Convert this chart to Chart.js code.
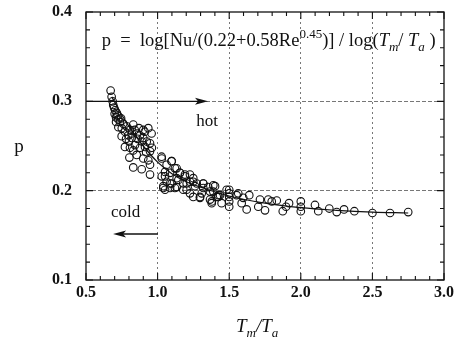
<!DOCTYPE html>
<html><head><meta charset="utf-8">
<script src="https://cdn.jsdelivr.net/npm/chart.js@4/dist/chart.umd.min.js"></script>
<style>html,body{margin:0;padding:0;background:#fff}</style>
</head><body>
<canvas id="c" width="457" height="346"></canvas>
<script>
// Measured points: T_m/T_a and p
const ratioValues = [
0.672,0.679,0.686,0.690,0.696,0.703,0.700,0.714,0.710,0.720,0.726,0.710,0.737,0.745,0.760,0.726,0.750,0.784,0.807,0.830,0.820,0.935,0.958,0.749,0.772,0.795,0.819,0.854,0.877,0.900,0.924,0.947,0.772,0.807,0.842,0.877,0.912,0.947,0.803,0.854,0.900,0.935,0.830,0.889,0.947,0.947,0.860,0.890,0.840,0.870,0.910,0.800,0.830,0.780,0.920,0.960,0.900,
1.029,1.063,1.098,1.121,1.029,1.052,1.087,1.063,1.098,1.133,1.156,1.191,1.040,1.087,1.133,1.179,1.226,1.249,1.273,1.203,1.249,1.296,1.319,1.354,1.389,1.401,1.413,1.378,1.436,1.319,1.366,1.308,1.378,1.424,1.500,1.500,1.500,1.500,1.500,
1.028,1.098,1.133,1.190,1.249,1.319,1.389,1.052,1.040,1.052,1.121,1.179,1.226,1.296,1.366,1.424,1.447,1.482,1.087,1.145,1.203,1.261,1.156,1.226,
1.552,1.563,1.598,1.640,1.587,1.622,1.703,1.715,1.750,1.773,1.797,1.832,1.874,1.897,1.918,2.000,2.000,2.000,2.099,2.122,2.199,2.251,2.302,2.374,2.500,2.623,2.750
];
const pValues = [
0.312,0.305,0.300,0.296,0.293,0.290,0.286,0.287,0.282,0.284,0.280,0.277,0.277,0.281,0.275,0.271,0.270,0.272,0.268,0.274,0.264,0.270,0.264,0.261,0.266,0.262,0.259,0.264,0.262,0.259,0.255,0.253,0.249,0.248,0.251,0.248,0.249,0.244,0.237,0.240,0.236,0.234,0.226,0.224,0.229,0.218,0.258,0.255,0.268,0.270,0.266,0.255,0.245,0.258,0.243,0.248,0.268,
0.236,0.229,0.233,0.225,0.216,0.221,0.220,0.210,0.208,0.214,0.220,0.218,0.203,0.203,0.204,0.208,0.210,0.214,0.208,0.201,0.193,0.192,0.203,0.204,0.199,0.205,0.193,0.188,0.195,0.208,0.199,0.197,0.186,0.193,0.201,0.197,0.193,0.188,0.182,
0.238,0.233,0.225,0.216,0.210,0.208,0.206,0.216,0.205,0.201,0.203,0.201,0.197,0.193,0.190,0.195,0.186,0.201,0.208,0.212,0.208,0.205,0.220,0.218,
0.195,0.197,0.192,0.195,0.186,0.179,0.182,0.190,0.178,0.190,0.188,0.189,0.177,0.182,0.186,0.188,0.182,0.177,0.184,0.177,0.180,0.176,0.179,0.177,0.175,0.175,0.176
];
// Fitted curve
const fitRatio = [0.68,0.75,0.80,0.90,1.00,1.10,1.20,1.30,1.50,1.75,2.00,2.25,2.50,2.75];
const fitP     = [0.305,0.285,0.272,0.250,0.232,0.219,0.210,0.204,0.194,0.186,0.181,0.178,0.176,0.175];
const xTickLabels = ['0.5','1.0','1.5','2.0','2.5','3.0'];
const yTickLabels = ['0.1','0.2','0.3','0.4'];

const SERIF = '"Liberation Serif", "Times New Roman", serif';

function drawRich(ctx, x, y, pieces, base) {
  let cx = x;
  for (const p of pieces) {
    const size = p.size || base;
    ctx.font = (p.italic ? 'italic ' : '') + size + 'px ' + SERIF;
    ctx.fillText(p.t, cx, y + (p.dy || 0));
    cx += ctx.measureText(p.t).width + (p.gap || 0);
  }
}

const decor = {
  id: 'decor',
  afterDatasetsDraw(chart) {
    const ctx = chart.ctx, xs = chart.scales.x, ys = chart.scales.y;
    const a = chart.chartArea;
    ctx.save();
    ctx.strokeStyle = '#111'; ctx.fillStyle = '#111';
    ctx.lineWidth = 1.3;
    ctx.strokeRect(a.left, a.top, a.right - a.left, a.bottom - a.top);
    ctx.lineWidth = 1.1;
    ctx.beginPath();
    for (let i = 0; i <= 25; i++) {
      const v = 0.5 + i * 0.1, px = xs.getPixelForValue(v);
      const L = (i % 5 === 0) ? 7 : 4;
      ctx.moveTo(px, a.bottom); ctx.lineTo(px, a.bottom - L);
      ctx.moveTo(px, a.top); ctx.lineTo(px, a.top + L);
    }
    for (let i = 0; i <= 15; i++) {
      const v = 0.1 + i * 0.02, py = ys.getPixelForValue(v);
      const L = (i % 5 === 0) ? 7 : 4;
      ctx.moveTo(a.left, py); ctx.lineTo(a.left + L, py);
      ctx.moveTo(a.right, py); ctx.lineTo(a.right - L, py);
    }
    ctx.stroke();

    // arrows
    function arrow(x1, x2, yv) {
      const p1 = xs.getPixelForValue(x1), p2 = xs.getPixelForValue(x2), py = ys.getPixelForValue(yv);
      const dir = Math.sign(p2 - p1);
      ctx.lineWidth = 1.3;
      ctx.beginPath(); ctx.moveTo(p1, py); ctx.lineTo(p2 - dir * 8, py); ctx.stroke();
      ctx.beginPath();
      ctx.moveTo(p2, py); ctx.lineTo(p2 - dir * 13, py - 3.5); ctx.lineTo(p2 - dir * 10, py); ctx.lineTo(p2 - dir * 13, py + 3.5);
      ctx.closePath(); ctx.fill();
    }
    arrow(0.5, 1.352, 0.3);
    arrow(1.003, 0.689, 0.1515);

    ctx.textBaseline = 'alphabetic';
    ctx.textAlign = 'left';
    // formula
    drawRich(ctx, xs.getPixelForValue(0.61), ys.getPixelForValue(0.3625), [
      {t: 'p  =  log[Nu/(0.22+0.58Re'},
      {t: '0.45', size: 13, dy: -8},
      {t: ')] / log('},
      {t: 'T', italic: true},
      {t: 'm', italic: true, size: 13, dy: 5},
      {t: '/ '},
      {t: 'T', italic: true},
      {t: 'a', italic: true, size: 13, dy: 5},
      {t: ' )'}
    ], 18.5);
    ctx.textAlign = 'center'; ctx.textBaseline = 'middle';
    ctx.font = '17px ' + SERIF;
    ctx.fillText('hot', xs.getPixelForValue(1.345), ys.getPixelForValue(0.277));
    ctx.fillText('cold', xs.getPixelForValue(0.776), ys.getPixelForValue(0.175));
    // y title
    ctx.font = '19px ' + SERIF;
    ctx.fillText('p', 19, 147);
    // x title
    ctx.textAlign = 'left'; ctx.textBaseline = 'alphabetic';
    drawRich(ctx, 236, 332, [
      {t: 'T', italic: true},
      {t: 'm', italic: true, size: 13, dy: 5},
      {t: '/', italic: true},
      {t: 'T', italic: true},
      {t: 'a', italic: true, size: 13, dy: 5}
    ], 19);
    ctx.restore();
  }
};

new Chart(document.getElementById('c'), {
  type: 'scatter',
  data: {
    datasets: [
      {
        data: ratioValues.map((x, i) => ({x, y: pValues[i]})),
        pointRadius: 3.8, pointBorderWidth: 1.1,
        borderColor: '#111', backgroundColor: 'rgba(255,255,255,0)',
        pointStyle: 'circle'
      },
      {
        type: 'line',
        data: fitRatio.map((x, i) => ({x, y: fitP[i]})),
        showLine: true, pointRadius: 0, borderWidth: 1.2, borderColor: '#111',
        tension: 0.4, fill: false
      }
    ]
  },
  options: {
    responsive: false, animation: false,
    layout: {padding: {top: 12, right: 13, left: 0, bottom: 0}},
    plugins: {legend: {display: false}, tooltip: {enabled: false}},
    scales: {
      x: {
        type: 'linear', min: 0.5, max: 3.0,
        afterFit: s => { s.height = 66; s.paddingLeft = 0; s.paddingRight = 0; },
        afterBuildTicks: s => { s.ticks = xTickLabels.map(t => ({value: parseFloat(t)})); },
        ticks: {
          callback: (v, i) => xTickLabels[i],
          color: '#111', padding: 3, maxRotation: 0,
          font: {family: SERIF, size: 16, weight: 'bold'}
        },
        grid: {
          drawTicks: false, lineWidth: 1,
          color: c => (c.tick && c.tick.value > 0.6 && c.tick.value < 2.9) ? '#777' : 'rgba(0,0,0,0)'
        },
        border: {display: false, dash: [2, 3]}
      },
      y: {
        type: 'linear', min: 0.1, max: 0.4,
        afterFit: s => { s.width = 86; s.paddingTop = 0; s.paddingBottom = 0; },
        afterBuildTicks: s => { s.ticks = yTickLabels.map(t => ({value: parseFloat(t)})); },
        ticks: {
          callback: (v, i) => yTickLabels[i],
          color: '#111', padding: 14,
          font: {family: SERIF, size: 16, weight: 'bold'}
        },
        grid: {
          drawTicks: false, lineWidth: 1,
          color: c => (c.tick && c.tick.value > 0.15 && c.tick.value < 0.35) ? '#777' : 'rgba(0,0,0,0)'
        },
        border: {display: false, dash: [4, 2]}
      }
    }
  },
  plugins: [decor]
});
</script>
</body></html>
